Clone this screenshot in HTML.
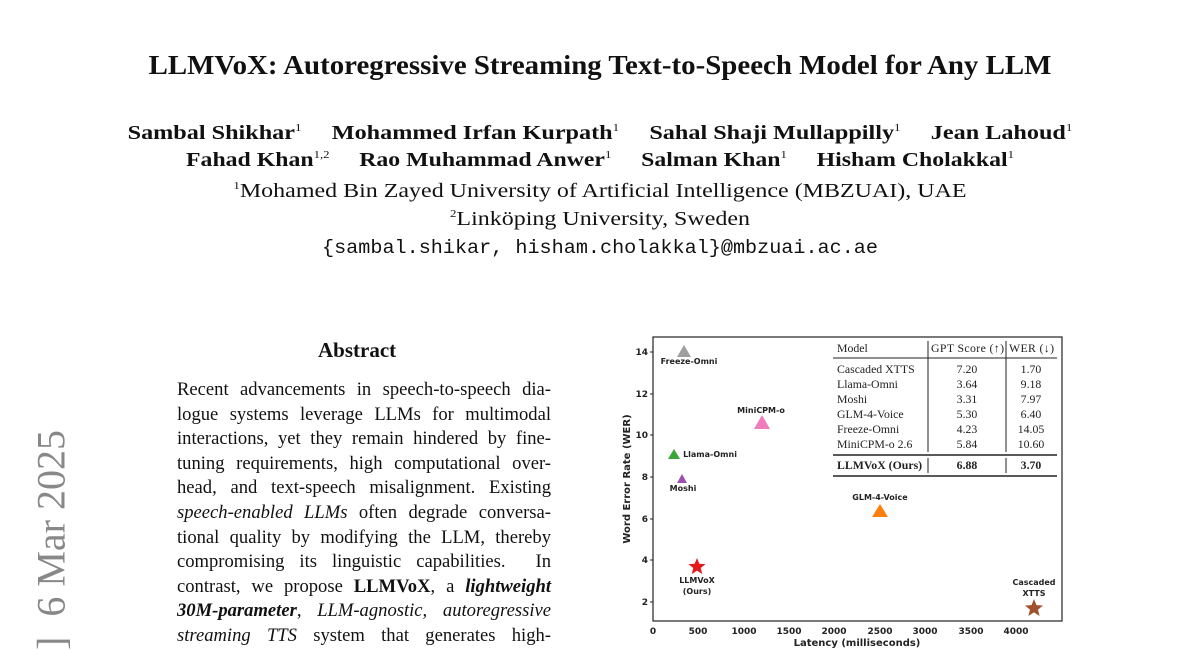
<!DOCTYPE html>
<html><head><meta charset="utf-8"><style>
body{margin:0;width:1200px;height:648px;overflow:hidden;background:#fff;position:relative;font-family:"Liberation Serif",serif;color:#111}
.c{position:absolute;left:0;width:1200px;text-align:center;white-space:nowrap}
sup{font-size:11px}
.ab{position:absolute;left:177px;width:374px;font-size:18.6px;line-height:24.6px;top:378px}
.ab div{text-align:justify;text-align-last:justify;height:24.6px;white-space:nowrap}
</style></head><body>
<div class="c" style="top:50px;font-size:27px;font-weight:bold;transform:scaleX(1.07)">LLMVoX: Autoregressive Streaming Text-to-Speech Model for Any LLM</div>
<div class="c" style="top:122px;font-size:20.5px;font-weight:bold;transform:scaleX(1.18)">Sambal Shikhar<sup style="font-weight:normal">1</sup> &nbsp;&nbsp;&nbsp; Mohammed Irfan Kurpath<sup style="font-weight:normal">1</sup> &nbsp;&nbsp;&nbsp; Sahal Shaji Mullappilly<sup style="font-weight:normal">1</sup> &nbsp;&nbsp;&nbsp; Jean Lahoud<sup style="font-weight:normal">1</sup></div>
<div class="c" style="top:149px;font-size:20.5px;font-weight:bold;transform:scaleX(1.16)">Fahad Khan<sup style="font-weight:normal">1,2</sup> &nbsp;&nbsp;&nbsp; Rao Muhammad Anwer<sup style="font-weight:normal">1</sup> &nbsp;&nbsp;&nbsp; Salman Khan<sup style="font-weight:normal">1</sup> &nbsp;&nbsp;&nbsp; Hisham Cholakkal<sup style="font-weight:normal">1</sup></div>
<div class="c" style="top:180px;font-size:20.5px;transform:scaleX(1.17)"><sup>1</sup>Mohamed Bin Zayed University of Artificial Intelligence (MBZUAI), UAE</div>
<div class="c" style="top:208px;font-size:20.5px;transform:scaleX(1.17)"><sup>2</sup>Linköping University, Sweden</div>
<div class="c" style="top:237px;font-size:19px;font-family:'Liberation Mono',monospace;transform:scaleX(1.06)">{sambal.shikar, hisham.cholakkal}@mbzuai.ac.ae</div>
<div style="position:absolute;left:318px;top:338px;font-size:21px;font-weight:bold">Abstract</div>
<div style="position:absolute;left:51px;top:540px;transform:translate(-50%,-50%) rotate(-90deg);font-size:40px;color:#888;white-space:nowrap">] &nbsp;6 Mar 2025</div>
<div class="ab">
<div>Recent advancements in speech-to-speech dia-</div>
<div>logue systems leverage LLMs for multimodal</div>
<div>interactions, yet they remain hindered by fine-</div>
<div>tuning requirements, high computational over-</div>
<div>head, and text-speech misalignment. Existing</div>
<div><i>speech-enabled LLMs</i> often degrade conversa-</div>
<div>tional quality by modifying the LLM, thereby</div>
<div>compromising its linguistic capabilities. &nbsp;In</div>
<div>contrast, we propose <b>LLMVoX</b>, a <b><i>lightweight</i></b></div>
<div><b><i>30M-parameter</i></b>, <i>LLM-agnostic, autoregressive</i></div>
<div><i>streaming TTS</i> system that generates high-</div>
</div>
<svg width="1200" height="648" style="position:absolute;left:0;top:0" font-family="DejaVu Sans, sans-serif">
<rect x="653" y="337" width="409" height="284" fill="none" stroke="#222" stroke-width="1.2"/>
<g font-size="9" font-weight="bold" fill="#222" text-anchor="end">
<text x="648" y="355">14</text><text x="648" y="397">12</text><text x="648" y="438">10</text><text x="648" y="480">8</text><text x="648" y="522">6</text><text x="648" y="563">4</text><text x="648" y="605">2</text>
</g>
<g stroke="#222"><line x1="650" y1="352" x2="653" y2="352"/><line x1="650" y1="394" x2="653" y2="394"/><line x1="650" y1="435" x2="653" y2="435"/><line x1="650" y1="477" x2="653" y2="477"/><line x1="650" y1="519" x2="653" y2="519"/><line x1="650" y1="560" x2="653" y2="560"/><line x1="650" y1="602" x2="653" y2="602"/></g>
<g font-size="9" font-weight="bold" fill="#222" text-anchor="middle">
<text x="653" y="634">0</text><text x="698" y="634">500</text><text x="744" y="634">1000</text><text x="789" y="634">1500</text><text x="834" y="634">2000</text><text x="880" y="634">2500</text><text x="925" y="634">3000</text><text x="971" y="634">3500</text><text x="1016" y="634">4000</text>
<text x="857" y="646" font-size="10">Latency (milliseconds)</text>
<text transform="translate(630,479) rotate(-90)" font-size="10">Word Error Rate (WER)</text>
</g>
<g font-size="8" font-weight="bold" fill="#222" text-anchor="middle">
<polygon points="684,345 677,357 691,357" fill="#9e9e9e"/><text x="689" y="364">Freeze-Omni</text>
<polygon points="762,415 754,429 770,429" fill="#f07cbd"/><text x="761" y="413">MiniCPM-o</text>
<polygon points="674,449 668,459 680,459" fill="#3aa63a"/><text x="710" y="457">Llama-Omni</text>
<polygon points="682,474 677,483 687,483" fill="#9b4fb0"/><text x="683" y="491">Moshi</text>
<polygon points="880,504 872,517 888,517" fill="#ff7f0e"/><text x="880" y="500">GLM-4-Voice</text>
<text x="697" y="583">LLMVoX</text><text x="697" y="594">(Ours)</text>
<text x="1034" y="585">Cascaded</text><text x="1034" y="596">XTTS</text>
</g>
<polygon fill="#e31a1c" points="697,558 699.3,563.8 705.6,564.1 700.7,568 702.3,574.1 697,570.6 691.7,574.1 693.3,568 688.4,564.1 694.7,563.8"/>
<polygon fill="#a0522d" points="1034,599 1036.5,605.1 1043,605.5 1038,609.6 1039.6,616 1034,612.4 1028.4,616 1030,609.6 1025,605.5 1031.5,605.1"/>
<g font-family="Liberation Serif, serif" font-size="11.8" fill="#222">
<text x="837" y="352">Model</text><text x="931" y="352" textLength="73">GPT Score (↑)</text><text x="1009" y="352" textLength="45">WER (↓)</text>
<line x1="833" y1="358" x2="1057" y2="358" stroke="#222"/>
<line x1="928" y1="341" x2="928" y2="452" stroke="#222"/>
<line x1="1006" y1="341" x2="1006" y2="452" stroke="#222"/>
<line x1="928" y1="458" x2="928" y2="473" stroke="#222"/>
<line x1="1006" y1="458" x2="1006" y2="473" stroke="#222"/>
<text x="837" y="373">Cascaded XTTS</text><text x="967" y="373" text-anchor="middle">7.20</text><text x="1031" y="373" text-anchor="middle">1.70</text>
<text x="837" y="388">Llama-Omni</text><text x="967" y="388" text-anchor="middle">3.64</text><text x="1031" y="388" text-anchor="middle">9.18</text>
<text x="837" y="403">Moshi</text><text x="967" y="403" text-anchor="middle">3.31</text><text x="1031" y="403" text-anchor="middle">7.97</text>
<text x="837" y="418">GLM-4-Voice</text><text x="967" y="418" text-anchor="middle">5.30</text><text x="1031" y="418" text-anchor="middle">6.40</text>
<text x="837" y="433">Freeze-Omni</text><text x="967" y="433" text-anchor="middle">4.23</text><text x="1031" y="433" text-anchor="middle">14.05</text>
<text x="837" y="448">MiniCPM-o 2.6</text><text x="967" y="448" text-anchor="middle">5.84</text><text x="1031" y="448" text-anchor="middle">10.60</text>
<line x1="833" y1="455" x2="1057" y2="455" stroke="#222" stroke-width="1.5"/>
<g font-weight="bold"><text x="837" y="469">LLMVoX (Ours)</text><text x="967" y="469" text-anchor="middle">6.88</text><text x="1031" y="469" text-anchor="middle">3.70</text></g>
<line x1="833" y1="476" x2="1057" y2="476" stroke="#222" stroke-width="1.5"/>
</g>
</svg>
</body></html>
